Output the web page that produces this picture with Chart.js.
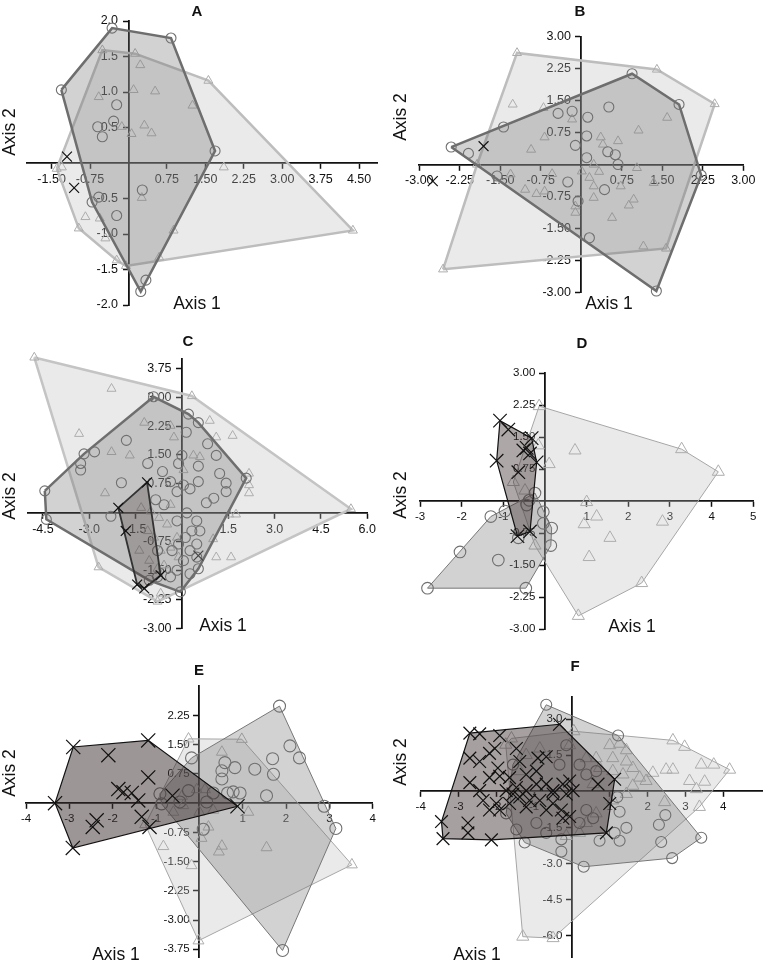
<!DOCTYPE html>
<html>
<head>
<meta charset="utf-8">
<script src="https://cdn.jsdelivr.net/npm/chart.js@4.4.1/dist/chart.umd.min.js"></script>
<style>
html,body{margin:0;padding:0;background:#fff;}
#wrap{position:relative;width:765px;height:968px;overflow:hidden;font-family:"Liberation Sans",Arial,Helvetica,sans-serif;background:#fff;}
#wrap canvas{position:absolute;}
.lbl{position:absolute;transform:translate(-50%,-50%);font-size:17.5px;color:#111;white-space:nowrap;line-height:1;}
.rot{transform:translate(-50%,-50%) rotate(-90deg);}
.ttl{position:absolute;transform:translate(-50%,-50%);font-size:15px;font-weight:bold;color:#111;line-height:1;}
</style>
</head>
<body>
<div id="wrap"></div>
<script>
// ---------------- DATA ----------------
const panelLetters = ['A','B','C','D','E','F'];

// Panel A
const aTri = [[-0.51,1.59],[0.13,1.54],[0.23,1.38],[1.56,1.16],[0.10,1.03],[0.52,1.01],[-0.58,0.93],[1.25,0.81],[-0.13,0.51],[0.31,0.53],[0.45,0.42],[0.06,0.41],[-1.40,-0.08],[-1.30,-0.06],[1.86,-0.06],[0.26,-0.49],[-0.84,-0.76],[-0.56,-0.78],[-0.97,-0.92],[0.88,-0.95],[4.38,-0.95],[-0.45,-1.06],[-0.23,-1.37],[0.60,-1.33],[-0.05,-1.45]];
const aCirc = [[-0.32,1.90],[0.83,1.76],[-1.31,1.03],[-0.23,0.82],[-0.29,0.59],[-0.60,0.51],[-0.51,0.37],[1.69,0.17],[0.27,-0.38],[-0.58,-0.48],[-0.71,-0.55],[-0.23,-0.74],[0.34,-1.65],[0.24,-1.81]];
const aX = [[-1.20,0.09],[-1.06,-0.35]];
const aXTicks = [-1.5,-0.75,0.75,1.5,2.25,3.0,3.75,4.5];
const aYTicks = [2.0,1.5,1.0,0.5,-0.5,-1.0,-1.5,-2.0];

// Panel B
const bTri = [[-1.19,2.62],[1.40,2.23],[2.47,1.42],[-1.27,1.41],[-0.70,1.33],[1.59,1.10],[-0.17,1.06],[1.06,0.80],[-0.68,0.64],[0.36,0.64],[0.40,0.47],[0.68,0.55],[-0.93,0.35],[-1.93,0.0],[0.23,0.0],[1.03,-0.08],[0.33,-0.17],[-0.54,-0.22],[0.01,-0.16],[0.15,-0.31],[-1.31,-0.23],[-1.04,-0.59],[-0.83,-0.69],[-0.68,-0.63],[0.73,-0.51],[0.23,-0.51],[1.34,-0.43],[0.97,-0.82],[0.88,-0.96],[0.23,-0.78],[-0.11,-0.98],[-0.11,-1.13],[0.57,-1.25],[1.15,-1.92],[1.57,-1.97],[-2.56,-2.46]];
const bCirc = [[0.94,2.13],[1.81,1.41],[-0.43,1.20],[0.51,1.35],[-0.17,1.25],[0.12,1.11],[-1.44,0.88],[0.10,0.67],[-0.11,0.45],[-2.41,0.41],[-2.09,0.26],[0.49,0.30],[0.63,0.23],[0.10,0.16],[0.68,0.0],[-1.56,-0.27],[-0.25,-0.41],[0.43,-0.59],[-0.06,-0.86],[0.15,-1.72],[2.22,-0.25],[1.39,-2.97]];
const bX = [[-1.81,0.43],[-2.75,-0.39]];
const bXTicks = [-3.0,-2.25,-1.5,-0.75,0.75,1.5,2.25,3.0];
const bYTicks = [3.0,2.25,1.5,0.75,-0.75,-1.5,-2.25,-3.0];

// Panel C
const cTri = [[-4.78,4.03],[-2.28,3.22],[0.32,3.03],[0.90,2.39],[-3.33,2.05],[-1.22,2.34],[-0.37,2.26],[-0.26,1.96],[1.64,2.00],[1.11,1.96],[-2.28,1.58],[-1.69,1.49],[0.37,1.49],[0.58,1.45],[0.05,1.11],[2.17,1.02],[2.17,0.72],[2.17,0.51],[-2.49,0.51],[1.53,-0.04],[1.75,-0.04],[-1.32,0.13],[-1.01,0.04],[-0.74,-0.13],[-0.48,-0.30],[-1.11,-0.47],[-0.90,-0.64],[-0.69,-0.98],[-1.06,-1.24],[-0.79,-1.45],[-0.37,-0.90],[-0.11,-1.15],[-0.58,-1.36],[1.01,-0.68],[1.11,-1.15],[1.59,-1.15],[-2.70,-1.41],[-0.69,-2.09],[-0.79,-2.30],[-1.38,-0.98],[-0.37,0.21],[-0.16,-0.64],[5.47,0.10]];
const cCirc = [[-0.92,3.01],[0.21,2.56],[0.53,2.34],[0.14,2.09],[-1.80,1.88],[-3.17,1.53],[-2.83,1.58],[-3.28,1.28],[-3.28,1.11],[0.83,1.79],[1.11,1.49],[0.00,1.49],[-0.11,1.28],[-1.11,1.28],[0.53,1.21],[1.22,1.02],[-0.63,1.07],[-0.37,0.81],[0.05,0.72],[0.53,0.81],[0.26,0.62],[-0.16,0.55],[1.43,0.77],[1.43,0.55],[1.03,0.38],[0.79,0.26],[2.08,0.90],[-1.96,0.78],[-4.44,0.57],[-4.39,-0.17],[-2.30,-0.09],[-0.85,0.34],[0.16,0.00],[0.48,-0.21],[0.32,-0.47],[0.58,-0.47],[0.11,-0.64],[-0.11,-0.81],[-0.32,-0.98],[0.26,-0.98],[0.05,-1.24],[0.48,-1.15],[-0.16,-1.49],[-0.37,-1.66],[0.26,-1.58],[0.53,-1.45],[-1.06,-1.75],[-0.79,-1.66],[-0.05,-2.05],[0.48,-0.81],[-0.79,-0.98],[-0.58,0.21],[-0.16,-0.21]];
const cX = [[-2.06,0.13],[-1.13,0.79],[-1.82,-0.47],[-1.45,-1.86],[-1.22,-1.96],[-0.69,-1.62]];
const cX2 = [[0.53,-1.11]];
const cXTicks = [-4.5,-3.0,-1.5,1.5,3.0,4.5,6.0];
const cYTicks = [3.75,3.0,2.25,1.5,0.75,-0.75,-1.5,-2.25,-3.0];

// Panel D
const dTri = [[-0.14,2.23],[3.28,1.22],[4.16,0.69],[0.72,1.19],[-0.16,1.31],[0.10,0.87],[-0.76,0.45],[-0.48,0.25],[1.00,-0.02],[1.24,-0.36],[0.94,-0.54],[2.82,-0.48],[1.56,-0.86],[1.06,-1.31],[-0.24,-1.04],[2.32,-1.92],[0.80,-2.69]];
const dCirc = [[-0.24,0.19],[-0.38,0.02],[-0.44,-0.09],[-0.96,-0.23],[-1.30,-0.36],[-0.04,-0.25],[-0.04,-0.52],[0.16,-0.63],[0.14,-1.04],[-0.64,-0.86],[-2.04,-1.19],[-1.12,-1.38],[-2.82,-2.04],[-0.46,-2.04]];
const dX = [[-1.08,1.89],[-0.88,1.68],[-0.32,1.48],[-0.52,1.19],[-0.44,1.25],[-0.36,1.12],[-1.16,0.95],[-0.20,0.91],[-0.64,0.68],[-0.66,-0.82],[-0.36,-0.71]];
const dXTicks = [-3,-2,-1,1,2,3,4,5];
const dYTicks = [3.0,2.25,1.5,0.75,-0.75,-1.5,-2.25,-3.0];

// Panel E
const eTri = [[-0.25,1.65],[0.98,1.64],[0.52,1.31],[0.13,0.35],[-0.06,0.35],[-0.40,0.18],[-0.37,-0.06],[-0.60,-0.23],[0.32,-0.18],[0.00,-0.23],[1.13,-0.23],[-0.83,-1.11],[0.52,-1.10],[0.45,-1.25],[1.55,-1.14],[-0.18,-1.60],[3.52,-1.58],[-0.02,-3.53],[0.21,-0.61],[-1.25,-0.55],[0.05,-0.90]];
const eCirc = [[1.85,2.49],[2.09,1.47],[2.31,1.16],[1.69,1.14],[1.28,0.87],[1.71,0.74],[-0.18,1.16],[0.59,1.04],[0.82,0.91],[0.52,0.83],[0.52,0.62],[0.78,0.29],[0.94,0.26],[0.32,0.26],[0.65,0.26],[-0.25,0.32],[-0.91,0.24],[-0.87,-0.02],[-0.45,0.03],[0.17,0.03],[1.55,0.19],[2.88,-0.08],[3.15,-0.65],[0.09,-0.67],[1.92,-3.78]];
const eX = [[-2.91,1.44],[-1.18,1.61],[-2.10,1.23],[-1.18,0.66],[-3.33,0.0],[-1.87,0.36],[-1.75,0.28],[-1.56,0.26],[-1.41,0.07],[-0.62,0.19],[-1.33,-0.35],[-1.15,-0.61],[-2.37,-0.44],[-2.46,-0.61],[-2.92,-1.15],[0.88,-0.08]];
const eXTicks = [-4,-3,-2,-1,1,2,3,4];
const eYTicks = [2.25,1.5,0.75,-0.75,-1.5,-2.25,-3.0,-3.75];

// Panel F
const fTri = [[-1.30,-6.05],[-0.50,-6.11],[2.67,2.12],[2.98,1.85],[3.42,1.11],[3.75,1.11],[4.17,0.90],[2.49,0.90],[2.14,0.77],[2.67,0.90],[3.11,0.43],[3.51,0.40],[3.29,0.09],[3.37,-0.65],[2.45,-0.45],[1.00,1.92],[1.26,1.98],[1.44,1.71],[-0.06,1.92],[-1.75,1.94],[0.05,2.50],[0.64,1.38],[1.08,1.38],[1.44,1.24],[1.61,0.97],[1.08,0.84],[1.35,0.70],[1.79,0.57],[0.73,0.97],[0.38,1.38],[0.56,0.30],[1.61,0.23],[1.96,0.43],[1.44,-0.11],[1.08,-0.38],[0.64,-0.92],[0.38,-1.32],[0.20,-1.73],[-0.15,-1.86],[-1.21,1.51],[-1.60,2.20],[-0.85,1.78],[-1.38,0.84]];
const fCirc = [[-0.68,3.60],[1.22,2.32],[3.42,-1.93],[2.65,-2.78],[0.31,-3.14],[-1.25,-2.13],[-0.28,-2.51],[-0.28,-2.00],[0.73,-2.06],[1.26,-2.06],[1.44,-1.52],[1.13,-1.73],[2.30,-1.39],[2.47,-0.99],[2.36,-2.11],[1.20,-0.24],[1.26,-0.85],[-1.74,-0.92],[0.38,-0.78],[0.56,-1.12],[0.20,-1.32],[-1.47,-1.59],[-0.94,-1.32],[-0.68,-1.73],[-1.56,1.11],[0.38,0.70],[0.64,0.84],[0.20,1.11],[-0.33,1.11],[-0.15,1.92]];
const fX = [[-2.70,2.42],[-2.44,2.39],[-1.91,2.32],[-0.33,2.79],[-2.04,1.78],[-1.47,1.78],[-2.70,1.38],[-2.44,1.24],[-2.18,1.58],[-1.96,0.97],[-1.38,1.24],[-0.90,1.38],[-0.68,1.44],[-2.70,0.36],[-2.18,0.57],[-1.65,0.57],[-1.21,0.70],[-0.94,0.84],[-1.47,0.16],[-1.21,0.03],[-0.94,0.30],[-0.68,0.30],[-0.50,0.03],[-0.24,0.30],[-0.06,0.43],[0.03,0.03],[0.69,0.30],[1.13,0.50],[-2.35,-0.38],[-2.00,-0.51],[-2.18,-0.78],[-1.91,-0.78],[-1.56,-0.11],[-1.12,-0.38],[-0.85,-0.38],[-0.50,-0.51],[-0.28,-0.78],[-0.24,-1.12],[-0.06,-1.05],[1.00,-0.51],[-3.45,-1.26],[-2.75,-1.32],[-3.41,-1.97],[-2.75,-1.73],[-2.13,-2.02],[0.91,-1.73],[-0.50,-0.11],[-0.15,-0.11],[-2.44,0.03],[-1.38,-0.24],[-1.74,0.03],[-1.65,-0.51],[-1.21,-0.65],[-0.68,-0.78],[-1.91,0.63]];
const fXTicks = [-4,-3,-2,-1,1,2,3,4];
const fYTicks = [3.0,1.5,-1.5,-3.0,-4.5,-6.0];

// ---------------- RENDERING ----------------
const FONT = '"Liberation Sans", Arial, Helvetica, sans-serif';
const wrap = document.getElementById('wrap');

function convexHull(points){
  const p = points.map(q => [q[0], q[1]]).sort((a,b) => a[0]-b[0] || a[1]-b[1]);
  if (p.length < 3) return p;
  const cross = (o,a,b) => (a[0]-o[0])*(b[1]-o[1]) - (a[1]-o[1])*(b[0]-o[0]);
  const lower = [];
  for (const q of p){ while (lower.length >= 2 && cross(lower[lower.length-2], lower[lower.length-1], q) <= 0) lower.pop(); lower.push(q); }
  const upper = [];
  for (let i = p.length-1; i >= 0; i--){ const q = p[i]; while (upper.length >= 2 && cross(upper[upper.length-2], upper[upper.length-1], q) <= 0) upper.pop(); upper.push(q); }
  upper.pop(); lower.pop();
  const h = lower.concat(upper); h.push(h[0]);
  return h;
}
const toXY = a => a.map(q => ({x:q[0], y:q[1]}));

const hullPlugin = {
  id: 'hullFill',
  beforeDatasetDraw(chart, args){
    const ds = chart.data.datasets[args.index];
    if (!ds.hullFill) return;
    const els = args.meta.data;
    if (!els.length) return;
    const ctx = chart.ctx;
    ctx.save();
    ctx.beginPath();
    els.forEach((e,i) => i ? ctx.lineTo(e.x, e.y) : ctx.moveTo(e.x, e.y));
    ctx.closePath();
    ctx.fillStyle = ds.hullFill;
    ctx.fill();
    ctx.restore();
  }
};

const TRI_FILL = 'rgba(185,185,185,0.30)';
const CIRC_FILL = 'rgba(105,105,105,0.30)';

function triGroup(data, r, hullW, hullC){ return {data, hull:true, style:'triangle', r, color:'#adadad', bw:1, hullStroke:hullC||'#bdbdbd', hullWidth:hullW, hullFill:TRI_FILL}; }
function circGroup(data, r, hullW, hullC){ return {data, hull:true, style:'circle', r, color:'#707070', bw:1.1, hullStroke:hullC||'#6e6e6e', hullWidth:hullW, hullFill:CIRC_FILL}; }
function xGroup(data, r, hull, hullW, fillA, stroke){ return {data, hull, style:'crossRot', r, color:'#111', bw:1.2, hullStroke:stroke||'#111', hullWidth:hullW, hullFill:'rgba(60,45,45,'+(fillA||0.5)+')'}; }

const panels = [
  { box:{l:0,t:0,w:380,h:320}, pad:{left:27,right:3,top:21,bottom:15}, x:[-1.98,4.85], y:[-2,2], xT:aXTicks, yT:aYTicks, xd:2, yd:1, fs:12.5,
    groups:[triGroup(aTri,5.2,2.5), circGroup(aCirc,5,2.5), xGroup(aX,7,false,1)] },
  { box:{l:380,t:0,w:385,h:320}, pad:{left:39.3,right:21.7,top:36.7,bottom:27.7}, x:[-3,3], y:[-3,3], xT:bXTicks, yT:bYTicks, xd:2, yd:2, fs:12.5,
    groups:[triGroup(bTri,5.2,2.5), circGroup(bCirc,5,2.5), xGroup(bX,7,false,1)] },
  { box:{l:0,t:320,w:380,h:320}, pad:{left:27.5,right:6,top:38.6,bottom:7.7}, x:[-5,6], y:[-3,4], xT:cXTicks, yT:cYTicks, xd:1, yd:2, fs:12.5,
    groups:[triGroup(cTri,5.2,2.5,'#c4c4c4'), circGroup(cCirc,5,2.5), xGroup(cX,7,true,1.8,0.28,'#333'), {data:cX2, hull:false, style:'crossRot', r:7, color:'#444', bw:1.2}] },
  { box:{l:380,t:320,w:385,h:320}, pad:{left:40,right:11.7,top:53.3,bottom:6.7}, x:[-3,5], y:[-3,3], xT:dXTicks, yT:dYTicks, xd:0, yd:2, fs:11.5,
    groups:[triGroup(dTri,7,1,'#a6a6a6'), circGroup(dCirc,5.8,1,'#777'), xGroup(dX,9.5,true,1.2,0.42)] },
  { box:{l:0,t:640,w:380,h:328}, pad:{left:26,right:7.3,top:46.2,bottom:6.6}, x:[-4,4], y:[-3.95,3.0], xT:eXTicks, yT:eYTicks, xd:0, yd:2, fs:11.5,
    groups:[triGroup(eTri,6.3,1,'#a6a6a6'), circGroup(eCirc,6,1,'#777'), xGroup(eX,10,true,1.2,0.5)] },
  { box:{l:380,t:640,w:385,h:328}, pad:{left:40.7,right:2.1,top:56.4,bottom:3.6}, x:[-4,5.05], y:[-6.9,3.95], xT:fXTicks, yT:fYTicks, xd:0, yd:1, fs:11.5,
    groups:[triGroup(fTri,7,1,'#a6a6a6'), circGroup(fCirc,5.5,1,'#777'), xGroup(fX,9,true,1.2,0.45)] }
];

function axis(pos, min, max, ticksArr, dec, fs, isY){
  return {
    type:'linear', position:pos, min, max,
    afterBuildTicks: s => { s.ticks = ticksArr.map(v => ({value:v})); },
    // trailing spaces push right-aligned y labels off the axis line, beside the tick marks
    ticks:{ callback: v => Number(v).toFixed(dec) + (isY ? '   ' : ''), font:{family:FONT, size:fs}, color:'#111', padding:4, maxRotation:0, minRotation:0, autoSkip:false },
    grid:{ display:true, drawOnChartArea:false, drawTicks:true, tickLength:5, tickColor:'#111', tickWidth:1.5, color:'#111' },
    border:{ display:true, color:'#111', width:1.8 }
  };
}

panels.forEach(p => {
  const canvas = document.createElement('canvas');
  canvas.width = p.box.w; canvas.height = p.box.h;
  canvas.style.left = p.box.l + 'px'; canvas.style.top = p.box.t + 'px';
  canvas.style.width = p.box.w + 'px'; canvas.style.height = p.box.h + 'px';
  wrap.appendChild(canvas);
  const datasets = [];
  p.groups.forEach((g, gi) => {
    const base = 20 - gi*3;
    if (g.hull) {
      datasets.push({ data: toXY(convexHull(g.data)), showLine:true, borderColor:g.hullStroke, borderWidth:g.hullWidth,
        backgroundColor:'rgba(0,0,0,0)', pointRadius:0, pointHoverRadius:0, hullFill:g.hullFill, order:base, tension:0, fill:false, clip:false });
    }
    datasets.push({ data: toXY(g.data), showLine:false, pointStyle:g.style, pointRadius:g.r, pointHoverRadius:g.r,
      borderColor:g.color, pointBorderColor:g.color, backgroundColor:'rgba(0,0,0,0)', pointBackgroundColor:'rgba(0,0,0,0)',
      pointBorderWidth:g.bw, borderWidth:g.bw, order:base-1, clip:false });
  });
  new Chart(canvas, {
    type:'scatter',
    data:{ datasets },
    options:{
      responsive:false, animation:false, devicePixelRatio:1, events:[],
      layout:{ autoPadding:false, padding:p.pad },
      plugins:{ legend:{display:false}, tooltip:{enabled:false}, title:{display:false} },
      scales:{ x: axis({y:0}, p.x[0], p.x[1], p.xT, p.xd, p.fs, false), y: axis({x:0}, p.y[0], p.y[1], p.yT, p.yd, p.fs, true) }
    },
    plugins:[hullPlugin]
  });
});

// text overlays (real HTML text)
const titlePos = [[197,10],[580,10],[188,340],[582,342],[199,669],[575,665]];
const axis1Pos = [[197,304],[609,304],[223,626],[632,627],[116,955],[477,955]];
const axis2Pos = [[10,132],[401,117],[10,496],[401,495],[10,773],[401,762]];
panelLetters.forEach((L, i) => {
  const t = document.createElement('div'); t.className = 'ttl'; t.textContent = L;
  t.style.left = titlePos[i][0] + 'px'; t.style.top = titlePos[i][1] + 'px'; wrap.appendChild(t);
  const a1 = document.createElement('div'); a1.className = 'lbl'; a1.textContent = 'Axis 1';
  a1.style.left = axis1Pos[i][0] + 'px'; a1.style.top = axis1Pos[i][1] + 'px'; wrap.appendChild(a1);
  const a2 = document.createElement('div'); a2.className = 'lbl rot'; a2.textContent = 'Axis 2';
  a2.style.left = axis2Pos[i][0] + 'px'; a2.style.top = axis2Pos[i][1] + 'px'; wrap.appendChild(a2);
});
</script>
</body>
</html>
